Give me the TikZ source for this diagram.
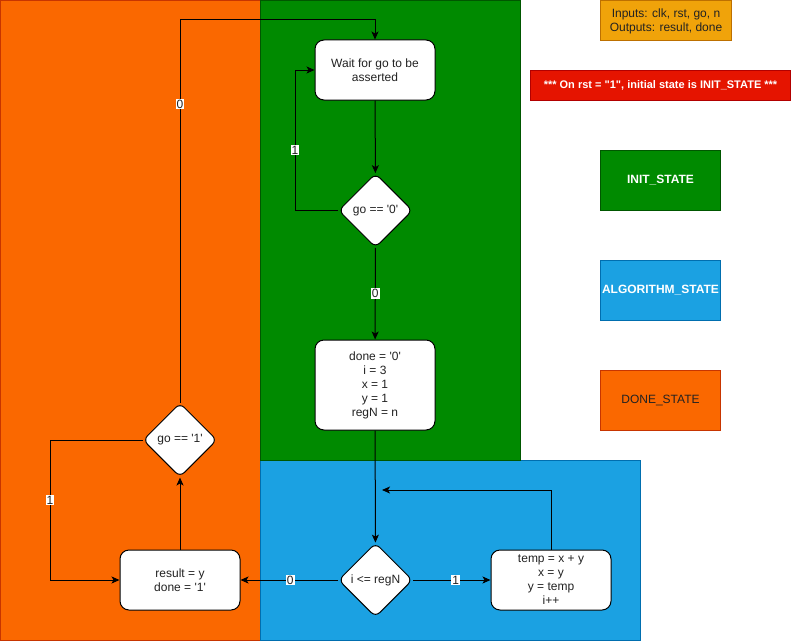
\documentclass[tikz,border=0pt]{standalone}
\usepackage{fontspec}
\setmainfont{Liberation Sans}[Ligatures=TeXOff]
\usetikzlibrary{shapes.geometric,arrows.meta}
\definecolor{txt}{HTML}{222222}
\definecolor{donefill}{HTML}{FA6800}\definecolor{doneline}{HTML}{C73500}
\definecolor{initfill}{HTML}{008A00}\definecolor{initline}{HTML}{005700}
\definecolor{algofill}{HTML}{1BA1E2}\definecolor{algoline}{HTML}{006EAF}
\definecolor{notefill}{HTML}{F0A30A}\definecolor{noteline}{HTML}{BD7000}
\definecolor{rstfill}{HTML}{E51400}\definecolor{rstline}{HTML}{B20000}
\tikzset{
  every node/.style={font=\fontsize{12pt}{14pt}\selectfont, text=txt},
  region/.style={line width=1pt},
  stepbox/.style={draw=black, fill=white, rounded corners=9pt, line width=1pt,
    minimum width=120pt, minimum height=60pt, align=center, inner sep=0pt},
  test/.style={draw=black, fill=white, diamond, rounded corners=6pt, line width=1pt,
    minimum width=74pt, minimum height=74pt, inner sep=0pt, align=center},
  legend/.style={line width=1pt, minimum width=120pt, minimum height=60pt,
    inner sep=0pt, align=center},
  flow/.style={line width=1pt, draw=black, -{Stealth[length=8pt,width=7pt,inset=2pt]}},
  elabel/.style={fill=white, inner sep=1pt, font=\fontsize{12pt}{13pt}\selectfont},
}
\begin{document}
\begin{tikzpicture}[x=1pt, y=-1pt]
\useasboundingbox (0,0) rectangle (791,642);
% state regions
\fill[white] (0,0) rectangle (791,642);
\draw[region, fill=donefill, draw=doneline] (0.5,0.5) rectangle (260,640);
\draw[region, fill=algofill, draw=algoline] (260,460) rectangle (640,640);
\draw[region, fill=initfill, draw=initline] (260,0.5) rectangle (520,460);

% legend
\node[legend, draw=noteline, fill=notefill, minimum width=131pt, minimum height=40pt,
  anchor=north west] (io) at (600,0.5) {Inputs: clk, rst, go, n\\Outputs: result, done};
\node[legend, draw=rstline, fill=rstfill, minimum width=260pt, minimum height=30pt,
  anchor=north west, font=\fontsize{11pt}{13pt}\selectfont\bfseries, text=white]
  (rst) at (530,70) {*** On rst = "1", initial state is INIT\_STATE ***};
\node[legend, draw=initline, fill=initfill, anchor=north west, text=white,
  font=\fontsize{12pt}{14pt}\selectfont\bfseries] (kinit) at (600,150) {INIT\_STATE};
\node[legend, draw=algoline, fill=algofill, anchor=north west, text=white,
  font=\fontsize{12pt}{14pt}\selectfont\bfseries] (kalgo) at (600,260) {ALGORITHM\_STATE};
\node[legend, draw=doneline, fill=donefill, anchor=north west] (kdone) at (600,370) {DONE\_STATE};

% flow nodes
\node[stepbox] (wait) at (375,70) {Wait for go to be\\asserted};
\node[test] (go0) at (375.5,210.5) {go == '0'};
\node[stepbox, minimum height=90pt] (init) at (375,385)
  {done = '0'\\i = 3\\x = 1\\y = 1\\regN = n};
\node[test] (cmp) at (375.5,580) {i <= regN};
\node[stepbox] (algo) at (551,580) {temp = x + y\\x = y\\y = temp\\i++};
\node[stepbox] (res) at (180,580) {result = y\\done = '1'};
\node[test] (go1) at (180,440) {go == '1'};

\coordinate (back) at (382,490);
\coordinate (topleft) at (180,20);

% connectors
\draw[flow] (wait) -- (go0);
\draw[flow] (go0.west) -- (295,210.5) |- node[elabel, pos=0.215] {1} (wait.west);
\draw[flow] (go0) -- node[elabel] {0} (init);
\draw[flow] (init) -- (cmp);
\draw[flow] (cmp) -- node[elabel, pos=0.55] {1} (algo);
\draw[flow] (algo.north) |- (back);
\draw[flow] (cmp) -- node[elabel, pos=0.49] {0} (res);
\draw[flow] (res) -- (go1);
\draw[flow] (go1.west) -- (50,440) |- node[elabel, pos=0.215] {1} (res.west);
\draw[flow] (go1.north) -- node[elabel, pos=0.78] {0} (topleft) -| (wait.north);
\end{tikzpicture}
\end{document}
